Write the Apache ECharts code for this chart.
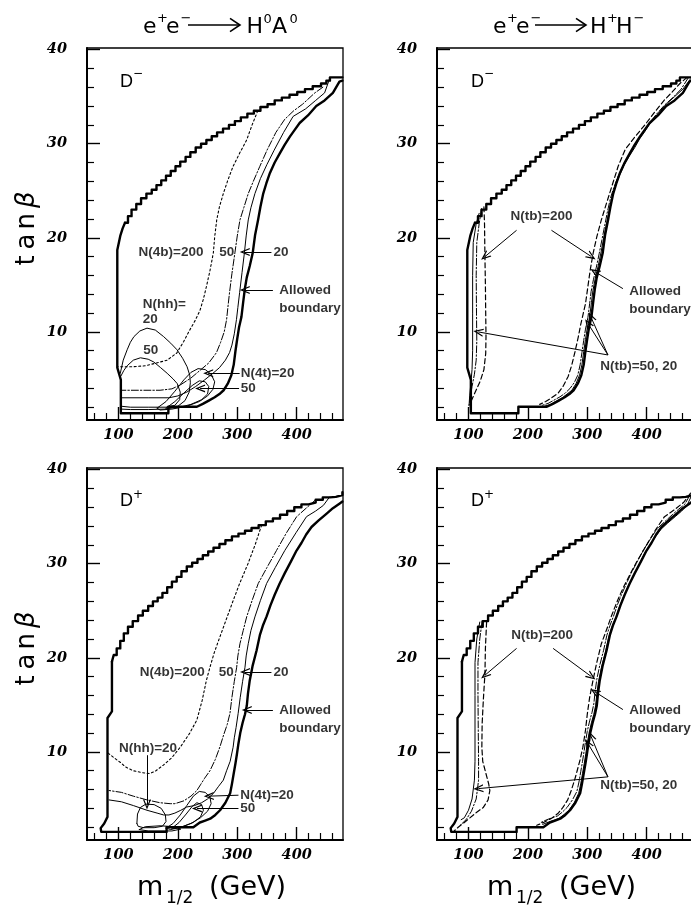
<!DOCTYPE html>
<html><head><meta charset="utf-8">
<script src="https://cdn.jsdelivr.net/npm/echarts@6/dist/echarts.min.js"></script>
<style>html,body{margin:0;padding:0;background:#fff}#c{width:691px;height:914px}</style>
</head><body><div id="c"></div><script>
// ---------- axis ticks ----------
const xMajorTicks = [100, 200, 300, 400];
const xMinorTicks = [60, 80, 120, 140, 160, 180, 220, 240, 260, 280, 320, 340, 360, 380, 420, 440, 460];
const yMajorTicks = [10, 20, 30, 40];
const yMinorTicks = [2, 4, 6, 8, 12, 14, 16, 18, 22, 24, 26, 28, 32, 34, 36, 38];

// ---------- allowed boundary, D- ----------
const bndMinusStairs = [[111,21.6],[116,22.3],[122,23.0],[130,23.6],[138,24.2],[147,24.7],[156,25.1],[164,25.6],[172,26.1],[180,26.6],[188,27.1],[196,27.6],[204,28.1],[213,28.6],[221,29.1],[230,29.6],[239,30.0],[248,30.4],[257,30.8],[266,31.2],[276,31.6],[286,32.0],[296,32.4],[306,32.8],[317,33.2],[328,33.5],[339,33.9],[351,34.2],[363,34.6],[375,34.9],[388,35.2],[401,35.5],[414,35.8],[427,36.1],[441,36.4],[450,36.7],[456,37.05],[477,37.05]];
const bndMinusEdge = [[111,21.6],[107,21.0],[103,20.2],[98,18.7],[98,6.2],[104,4.9],[104,1.35],[184,1.35],[184,2.05],[232,2.05],[242,2.35],[252,2.7],[262,3.05],[270,3.4],[277,3.8],[284,4.5],[290,5.4],[294,6.5],[297,8.0],[300,9.3],[303,10.5],[307,11.6],[310,13.2],[312.6,14.5],[316,15.8],[321,17.0],[326,18.4],[330,20.3],[335,21.9],[339,23.3],[343.7,24.7],[349,25.8],[355,26.9],[363,28.0],[371.8,29.0],[380,29.9],[388.6,30.75],[397,31.5],[405,32.2],[419,33.0],[433,34.0],[447,34.6],[461,35.4],[472,36.6],[477,36.7]];

// ---------- allowed boundary, D+ ----------
const bndPlusStairs = [[89,19.6],[92,20.3],[97,21.0],[103,21.8],[109,22.6],[116,23.3],[124,23.9],[133,24.5],[141,25.0],[150,25.5],[158,26.0],[166,26.4],[174,26.9],[182,27.5],[190,28.1],[198,28.6],[206,29.2],[215,29.7],[224,30.1],[233,30.5],[242,30.9],[251,31.3],[260,31.7],[270,32.1],[280,32.5],[291,32.9],[302,33.2],[313,33.5],[324,33.8],[336,34.1],[348,34.5],[360,34.8],[372,35.2],[384,35.6],[396,36.0],[408,36.3],[420,36.5],[432,36.8],[444,37.05],[456,37.1],[466,37.3],[477,37.6]];
const bndPlusEdge = [[89,19.6],[89,14.3],[81.5,13.6],[81.5,3.1],[76,2.4],[70,1.9],[71,1.5],[181,1.5],[181,2.0],[226,2.0],[237,2.5],[246,2.7],[254.5,2.9],[263,3.3],[271,3.8],[280,4.6],[288,5.6],[291,6.6],[294,7.7],[297,8.8],[299.5,9.8],[302,10.9],[305,12.0],[309,13.1],[313,14.0],[316,14.9],[318,16.2],[321,17.6],[326,19.2],[332.6,20.8],[338,22.4],[343,23.4],[349.4,24.4],[356,25.6],[363,26.7],[371.4,27.9],[380,29.0],[390,30.2],[399.8,31.4],[408,32.2],[416,33.1],[425,33.9],[437,34.6],[450,35.3],[461,35.9],[472.5,36.4],[477,36.6]];

// ---------- e+e- -> H0A0, D- ----------
const n4b200Minus = [[334.5,33.5],[325,32.0],[315.8,30.4],[304,29.0],[293,27.6],[284,26.1],[276.5,24.7],[270,23.3],[265.4,21.9],[262,20.1],[259.7,18.4],[254,16.5],[248,14.8],[243,13.5],[237.3,12.3],[229,11.2],[220,10.2],[210,9.0],[198,7.75],[182,7.0],[164,6.7],[145,6.4],[125,6.3],[99,6.3]];
const n4b50Minus = [[444,36.0],[430.6,35.4],[410,34.2],[395,33.5],[380,32.6],[365,31.2],[350,29.3],[338,27.6],[327,26.0],[318.5,24.7],[311,23.2],[304.5,21.9],[300,20.2],[296,18.4],[291,16.2],[287,14.2],[284,12.5],[282,11.3],[278,10.0],[272,8.9],[265,7.8],[252,6.7],[237,5.9],[222,5.1],[205,4.4],[190,3.95],[170,3.8],[104,3.8]];
const n4b20Minus = [[456,37.0],[447,35.4],[432,34.6],[415,33.7],[394,32.9],[378,31.2],[362,29.3],[350,27.8],[339,26.3],[329.7,24.7],[323,23.2],[318.5,21.9],[315,20.2],[312,18.4],[308,16.3],[304,14.2],[301,12.6],[298.6,11.3],[295,9.8],[291,8.6],[287,7.8],[280,7.0],[270,6.2],[259,5.6],[245,4.9],[230,4.2],[215,3.6],[200,3.2],[185,3.0],[150,3.0],[104,3.0]];
const nhh20Minus = [[103,5.6],[108,7.0],[114.6,8.1],[120,8.9],[126,9.5],[136,10.1],[148,10.4],[162,10.2],[176,9.5],[188,8.8],[198.6,8.1],[208,7.2],[215.5,6.3],[220,5.4],[221,4.6],[219,3.6],[212,2.7],[200,2.1],[180,1.8],[150,1.75],[120,1.75],[104,1.8]];
const nhh50Minus = [[104,5.3],[109,5.9],[114.6,6.4],[125,7.0],[137,7.25],[150,7.1],[159.5,6.8],[171,6.2],[182,5.6],[192,5.0],[199,4.5],[204,3.6],[203,2.8],[195,2.2],[180,2.0],[150,2.0],[120,2.0],[105,2.1]];
const n4t20Minus = [[165,1.9],[180,2.6],[195,3.7],[210,4.9],[222,5.7],[234,6.1],[246,6.0],[256,5.5],[262,4.7],[259,3.9],[250,3.2],[236,2.6],[215,2.1],[190,1.8],[170,1.7],[165,1.9]];
const n4t50Minus = [[180,1.9],[195,2.6],[210,3.5],[224,4.3],[236,4.8],[246,4.7],[252,4.2],[250,3.4],[240,2.8],[222,2.3],[200,1.95],[180,1.9]];

// ---------- e+e- -> H+H-, D- ----------
const ntb200MinusL = [[126,23.3],[127,21.5],[127.7,18.0],[128.5,15.0],[129,12.0],[129.5,9.5],[129,7.7],[126,6.0],[120,4.8],[112,3.7],[105,2.7],[103,2.0]];
const ntb200MinusR = [[468,37.05],[456,36.4],[443,35.5],[430,34.65],[414,33.4],[397,32.0],[380,30.7],[364,29.4],[352,27.6],[342,25.6],[332,23.6],[323.7,21.9],[316,20.1],[310,18.4],[305,16.6],[301,14.8],[297,13.0],[293,11.9],[289,10.8],[285,9.5],[279,7.8],[274,6.5],[268,5.3],[260,4.3],[251,3.5],[240,3.0],[230,2.6],[220,2.3]];
const ntb50MinusL = [[122,23.1],[118,21.5],[114,19.5],[113,16.0],[113.5,12.0],[114,9.0],[113,7.0],[110,5.5],[106,4.2],[103,3.0],[101,2.2]];
const ntb50MinusR = [[470,37.0],[458,35.8],[444,34.9],[430,34.1],[416,33.1],[402,32.0],[394,31.2],[385,30.4],[377,29.5],[368,28.6],[359,27.5],[351,26.4],[344,25.2],[339,24.2],[334,22.8],[330,21.5],[325,19.9],[320,18.3],[315,16.8],[310.5,15.6],[306.5,14.3],[304,13.0],[301,11.5],[297,10.3],[294,9.1],[291,7.8],[288,6.5],[284,5.4],[278,4.6],[271,4.0],[263,3.5],[254,3.1],[244,2.75],[234,2.4],[224,2.2]];
const ntb20MinusL = [[118,22.6],[113,21.5],[108,19.5],[107,16.0],[107,12.0],[107,8.0],[106,6.0],[104,4.5],[102,3.2],[101,2.2]];
const ntb20MinusR = [[474,36.9],[461,35.8],[447,35.0],[433,34.2],[419,33.2],[405,32.1],[397,31.3],[388,30.5],[380,29.6],[371,28.7],[362,27.7],[354,26.6],[347,25.4],[342,24.4],[337,23.0],[333,21.7],[328,20.1],[323,18.4],[318,16.9],[313.5,15.7],[309.5,14.4],[307,13.1],[304,11.6],[300,10.4],[297,9.2],[294,7.9],[291,6.5],[287,5.4],[281,4.5],[274,3.8],[266,3.4],[258,3.0],[248,2.65],[238,2.3],[228,2.1]];

// ---------- e+e- -> H0A0, D+ ----------
const n4b200Plus = [[341,34.1],[330,32.0],[318,30.0],[304,27.9],[292,25.9],[281,24.0],[270.6,22.2],[261,20.5],[254,19.0],[248,17.6],[241,15.5],[232,13.4],[220,12.0],[204,10.5],[190,9.4],[175.6,8.6],[163,8.0],[153,7.7],[140,7.8],[125,8.0],[112,8.4],[102.8,8.9],[92,9.4],[82,9.9]];
const n4b50Plus = [[432,36.8],[416,35.9],[400,35.0],[383,33.3],[366,31.4],[350,29.6],[335.3,27.9],[325,26.1],[315.8,24.35],[310,22.9],[304.5,21.5],[301,20.2],[299,19.0],[295,17.5],[291,15.8],[287.7,14.1],[283,12.9],[277,11.8],[270.6,10.5],[263,9.2],[254,8.0],[245,7.2],[238,6.5],[232,5.9],[222,5.3],[210,4.8],[195,4.5],[187,4.5],[170,4.6],[148,4.9],[125,5.3],[105,5.7],[84,5.9]];
const n4b20Plus = [[455.5,37.1],[445,36.2],[432,35.6],[416.6,35.0],[399,33.3],[380,31.4],[364,29.6],[349.4,27.9],[339,26.1],[329.7,24.35],[323,22.9],[318.5,21.5],[315,20.2],[313,19.0],[309,17.5],[305,15.8],[301.5,14.1],[298,12.6],[295,11.5],[293,10.5],[288,9.0],[282,8.0],[276.5,7.0],[268,6.3],[260,5.6],[250,5.0],[240,4.6],[228,4.3],[215,4.15],[205,3.8],[195,3.5],[185,3.3],[176,3.3],[165,3.5],[148,3.8],[125,4.3],[105,4.7],[84,4.9]];
const nhh20Plus = [[131,2.4],[132,3.4],[137,4.1],[146,4.45],[160,4.4],[172,4.0],[179,3.3],[180,2.6],[174,2.1],[160,1.95],[142,1.95],[133,2.1],[131,2.4]];
const nhh50Plus = [[135,1.75],[145,2.05],[170,2.15],[195,2.05],[205,1.8],[190,1.6],[150,1.6],[135,1.75]];
const n4t20Plus = [[180,1.9],[192,2.4],[204,3.3],[215,4.3],[226,5.3],[236,5.8],[246,5.7],[254,5.2],[256,4.5],[250,3.7],[238,3.0],[222,2.4],[205,2.0],[188,1.75],[180,1.9]];
const n4t50Plus = [[190,1.9],[202,2.5],[214,3.4],[224,4.2],[232,4.6],[240,4.4],[243,3.8],[238,3.1],[226,2.5],[210,2.1],[195,1.85],[190,1.9]];

// ---------- e+e- -> H+H-, D+ ----------
const ntb200PlusL = [[130.5,23.8],[128.5,21.0],[127.7,18.3],[125,15.5],[123,13.0],[122.5,10.5],[124,9.0],[129,7.8],[134,6.6],[136,5.9],[133,4.9],[125,4.1],[111,3.45],[95,2.6],[82.7,2.0],[76,1.6]];
const ntb200PlusR = [[474,37.5],[462,36.5],[446,35.7],[430,35.0],[415,33.6],[400,32.0],[385,30.4],[373,29.0],[361,27.5],[351,26.1],[341,24.5],[332,22.9],[323.7,21.5],[316,19.5],[309.6,17.6],[304,15.8],[300,14.0],[297,12.3],[292.6,10.5],[288,9.2],[283,8.0],[278.6,7.0],[273,5.9],[267,4.9],[259,4.1],[250.4,3.45],[240,2.95],[228,2.55],[215,2.2]];
const ntb50PlusL = [[123,23.9],[119,22.0],[116,19.5],[116,16.0],[116.5,12.0],[117,9.0],[117,7.0],[113,5.0],[105,3.7],[96,2.8],[86,2.2]];
const ntb50PlusR = [[472,37.2],[464,36.3],[454,35.8],[443,35.2],[431,34.5],[419,33.8],[410,33.0],[402,32.2],[394,31.4],[384,30.2],[374,29.0],[366,27.9],[357.5,26.7],[350.5,25.6],[344,24.4],[338,23.4],[333,22.4],[327.5,20.8],[321,19.2],[316,17.7],[313,16.3],[311,15.1],[308,14.2],[304,13.3],[300,12.2],[297,11.1],[294.5,10.0],[292,9.0],[289,7.9],[286,6.8],[282.5,5.8],[275,4.9],[266,4.1],[258,3.6],[250,3.2],[241,3.0],[232,2.8],[222,2.5]];
const ntb20PlusL = [[119,23.8],[114,22.0],[111,19.5],[111,16.0],[111,12.0],[111,9.0],[110,7.0],[106,5.0],[100,3.8],[93,3.0],[87.7,2.8]];
const ntb20PlusR = [[476,37.3],[468,36.2],[459,35.6],[448,35.0],[435,34.3],[423,33.6],[414,32.8],[406,32.0],[397.5,31.2],[388,30.0],[378,28.8],[369.5,27.7],[361,26.5],[354,25.4],[347.5,24.2],[341,23.2],[336,22.2],[330.5,20.6],[324,19.0],[319,17.5],[316,16.1],[314,14.9],[311,14.0],[307,13.1],[303,12.0],[300,10.9],[297.5,9.8],[295,8.8],[292,7.7],[289,6.6],[285.5,5.6],[278,4.6],[269,3.8],[261,3.35],[252.5,2.95],[244,2.75],[235,2.55],[225,2.3]];

// ---------- annotations: [text, x, y, lineHeight] and arrows [[from],[tip]] ----------
const labelsTL = [['N(4b)=200',133,18.5],['50',269,18.5],['20',360,18.5],['Allowed\nboundary',370,13.45,18],['N(hh)=\n20',140,12.15,15],['50',141,8.1],['N(4t)=20',305,5.6],['50',305,4.0]];
const arrowsTL = [[[357.5,18.5],[312.6,18.5]],[[360,14.46],[312.6,14.46]],[[304,5.6],[251,5.6]],[[303,4.0],[237.4,4.0]]];
const labelsTR = [['N(tb)=200',170,22.25],['Allowed\nboundary',370,13.4,18],['N(tb)=50, 20',321,6.3]];
const arrowsTR = [[[181,20.8],[127.7,18.0]],[[239.7,20.8],[307,18.0]],[[360,14.6],[312.5,16.4]],[[334.8,7.55],[116.4,10.0]],[[334.8,7.55],[301,10.9]],[[334.8,7.55],[306,11.6]]];
const labelsBL = [['N(4b)=200',135,18.5],['50',268,18.5],['20',360,18.5],['Allowed\nboundary',370,13.5,18],['N(hh)=20',100,10.36],['N(4t)=20',304,5.4],['50',304,4.0]];
const arrowsBL = [[[357.5,18.5],[313,18.5]],[[360,14.46],[316,14.46]],[[148,9.65],[148,4.4]],[[302,5.4],[252,5.3]],[[302,4.0],[232,4.0]]];
const labelsBR = [['N(tb)=200',171,22.4],['Allowed\nboundary',370,13.5,18],['N(tb)=50, 20',321,6.46]];
const arrowsBR = [[[181,21.0],[127.7,18.15]],[[242.5,21.0],[307,18.0]],[[360,14.5],[312.6,16.4]],[[334.8,7.35],[116.5,6.1]],[[334.8,7.35],[301,10.9]],[[334.8,7.35],[306,11.7]]];

// ---------- layout ----------
const X_MIN = 47, X_MAX = 478, Y_MIN = 0.64, Y_MAX = 40.17;
const gridBoxes = [[87,48],[437,48],[87,468],[437,468]];
const GW = 256, GH = 372;
const BLACK = '#000';
const THICK = 2.4, THIN = 1.0;
const DOT = [2, 2.5], DASHDOT = [7, 2, 1.5, 2], DASH = [5, 3];
const chevron = 'path://M0,10 L5,0 L10,10 L8.4,10 L5,3.2 L1.6,10 Z';

const grids = gridBoxes.map(g => ({left:g[0], top:g[1], width:GW, height:GH, show:true, borderColor:BLACK, borderWidth:1.3, backgroundColor:'transparent', containLabel:false, outerBoundsMode:'none'}));
const tickFont = {fontFamily:'DejaVu Serif', fontWeight:'bold', fontStyle:'italic', fontSize:14.5, color:BLACK};
const xAxes = [], yAxes = [];
gridBoxes.forEach((g, i) => {
  xAxes.push({gridIndex:i, type:'value', position:'bottom', min:X_MIN, max:X_MAX,
    axisLine:{show:true, onZero:false, lineStyle:{color:BLACK, width:2}},
    axisTick:{show:true, inside:true, length:13, customValues:xMajorTicks, lineStyle:{color:BLACK, width:1.4}},
    axisLabel:Object.assign({show:true, customValues:xMajorTicks, margin:8}, tickFont),
    splitLine:{show:false}});
  xAxes.push({gridIndex:i, type:'value', position:'bottom', min:X_MIN, max:X_MAX,
    axisLine:{show:false, onZero:false},
    axisTick:{show:true, inside:true, length:7, customValues:xMinorTicks, lineStyle:{color:BLACK, width:1.2}},
    axisLabel:{show:false}, splitLine:{show:false}});
  yAxes.push({gridIndex:i, type:'value', position:'left', min:Y_MIN, max:Y_MAX,
    axisLine:{show:true, onZero:false, lineStyle:{color:BLACK, width:2}},
    axisTick:{show:true, inside:true, length:13, customValues:yMajorTicks, lineStyle:{color:BLACK, width:1.4}},
    axisLabel:Object.assign({show:true, customValues:yMajorTicks, margin:20}, tickFont),
    splitLine:{show:false}});
  yAxes.push({gridIndex:i, type:'value', position:'left', min:Y_MIN, max:Y_MAX,
    axisLine:{show:false, onZero:false},
    axisTick:{show:true, inside:true, length:7, customValues:yMinorTicks, lineStyle:{color:BLACK, width:1.2}},
    axisLabel:{show:false}, splitLine:{show:false}});
});

const series = [];
function curve(i, data, width, dash, step, z) {
  series.push({type:'line', xAxisIndex:2*i, yAxisIndex:2*i, data:data, symbol:'none', showSymbol:false,
    step: step || false, silent:true, animation:false, z: z || 2,
    lineStyle:{color:BLACK, width:width, type: dash || 'solid', cap:'round', join:'round'}});
}
function labels(i, list) {
  series.push({type:'scatter', xAxisIndex:2*i, yAxisIndex:2*i, symbolSize:1, silent:true, animation:false, z:5,
    itemStyle:{color:'rgba(0,0,0,0)'},
    data:list.map(l => ({value:[l[1], l[2]], name:l[0], label:{lineHeight:l[3] || 16}})),
    label:{show:true, position:'right', distance:0, formatter:'{b}', fontFamily:'Liberation Sans', fontWeight:'bold', fontSize:13.5, color:BLACK}});
}
function arrows(i, list) {
  series.push({type:'line', xAxisIndex:2*i, yAxisIndex:2*i, data:[], animation:false, z:4,
    markLine:{silent:true, animation:false, symbol:['none', chevron], symbolSize:[8,10],
      lineStyle:{color:BLACK, width:1, type:'solid'}, label:{show:false}, emphasis:{disabled:true},
      data:list.map(a => [{coord:a[0]}, {coord:a[1]}])}});
}

// panel 0: H0A0, D-
curve(0, bndMinusStairs, THICK, 'solid', 'end', 3);
curve(0, bndMinusEdge, THICK, 'solid', false, 3);
curve(0, n4b200Minus, 1.1, DOT);
curve(0, n4b50Minus, THIN, DASHDOT);
curve(0, n4b20Minus, THIN);
curve(0, nhh20Minus, THIN);
curve(0, nhh50Minus, THIN);
curve(0, n4t20Minus, THIN);
curve(0, n4t50Minus, THIN);
labels(0, labelsTL); arrows(0, arrowsTL);
// panel 1: H+H-, D-
curve(1, bndMinusStairs, THICK, 'solid', 'end', 3);
curve(1, bndMinusEdge, THICK, 'solid', false, 3);
curve(1, ntb200MinusL, 1.2, DASH);
curve(1, ntb200MinusR, 1.2, DASH);
curve(1, ntb50MinusL, THIN, DASHDOT);
curve(1, ntb50MinusR, THIN, DASHDOT);
curve(1, ntb20MinusL, THIN);
curve(1, ntb20MinusR, THIN);
labels(1, labelsTR); arrows(1, arrowsTR);
// panel 2: H0A0, D+
curve(2, bndPlusStairs, THICK, 'solid', 'end', 3);
curve(2, bndPlusEdge, THICK, 'solid', false, 3);
curve(2, n4b200Plus, 1.1, DOT);
curve(2, n4b50Plus, THIN, DASHDOT);
curve(2, n4b20Plus, THIN);
curve(2, nhh20Plus, THIN);
curve(2, nhh50Plus, THIN);
curve(2, n4t20Plus, THIN);
curve(2, n4t50Plus, THIN);
labels(2, labelsBL); arrows(2, arrowsBL);
// panel 3: H+H-, D+
curve(3, bndPlusStairs, THICK, 'solid', 'end', 3);
curve(3, bndPlusEdge, THICK, 'solid', false, 3);
curve(3, ntb200PlusL, 1.2, DASH);
curve(3, ntb200PlusR, 1.2, DASH);
curve(3, ntb50PlusL, THIN, DASHDOT);
curve(3, ntb50PlusR, THIN, DASHDOT);
curve(3, ntb20PlusL, THIN);
curve(3, ntb20PlusR, THIN);
labels(3, labelsBR); arrows(3, arrowsBR);

// ---------- texts (layout positions in pixels) ----------
const FS = 'DejaVu Sans';
function txt(x, y, text, size, opts) {
  const o = opts || {};
  return {type:'text', x:x, y:y, silent:true, rotation:o.rotation || 0,
    style:{text:text, fill:BLACK, fontFamily:o.family || FS, fontSize:size, fontStyle:o.style || 'normal',
      align:o.align || 'left', verticalAlign:'middle'}};
}
function arrowGfx(x1, x2, y) {
  return [
    {type:'line', silent:true, shape:{x1:x1, y1:y, x2:x2, y2:y}, style:{stroke:BLACK, lineWidth:1.6}},
    {type:'polyline', silent:true, shape:{points:[[x2-10, y-6.7], [x2, y], [x2-10, y+6.7]]}, style:{stroke:BLACK, lineWidth:1.6, fill:null}}
  ];
}
const TB = 27, TS = 18.8; // title big-text centre, superscript centre
const ytRich = {
  t:{fontFamily:FS, fontSize:26, lineHeight:32, padding:[0,6,0,0], fill:BLACK},
  a:{fontFamily:FS, fontSize:26, lineHeight:32, padding:[0,4,0,0], fill:BLACK},
  n:{fontFamily:FS, fontSize:26, lineHeight:32, padding:[0,5,0,0], fill:BLACK},
  g:{fontFamily:FS, fontSize:26, lineHeight:32, fontStyle:'italic', fill:BLACK}
};
const ytText = '{t|t}{a|a}{n|n}{g|β}';
const graphic = [
  // left title  e+e- -> H0A0
  txt(143, TB, 'e', 22), txt(157, TS, '+', 13), txt(166, TB, 'e', 22), txt(180.5, TS, '\u2212', 13),
  ...arrowGfx(188, 240, 25),
  txt(246.5, TB, 'H', 22), txt(263.5, TS + 0.8, '0', 13), txt(272, TB, 'A', 22), txt(289.5, TS + 0.8, '0', 13),
  // right title  e+e- -> H+H-
  txt(493, TB, 'e', 22), txt(507, TS, '+', 13), txt(516, TB, 'e', 22), txt(530.5, TS, '\u2212', 13),
  ...arrowGfx(535, 586, 25),
  txt(590, TB, 'H', 22), txt(607, TS, '+', 13), txt(616, TB, 'H', 22), txt(633.5, TS, '\u2212', 13),
  // panel tags
  txt(120, 82, 'D', 18, {family:'Liberation Sans'}), txt(133, 73.5, '\u2212', 12),
  txt(471, 82, 'D', 18, {family:'Liberation Sans'}), txt(484, 73.5, '\u2212', 12),
  txt(120, 501.2, 'D', 18, {family:'Liberation Sans'}), txt(133, 495, '+', 12),
  txt(471, 501.2, 'D', 18, {family:'Liberation Sans'}), txt(484, 495, '+', 12),
  // x titles
  txt(137, 887.7, 'm', 27), txt(166, 898.5, '1/2', 17), txt(209, 887.7, '(GeV)', 27),
  txt(487, 887.7, 'm', 27), txt(516, 898.5, '1/2', 17), txt(559, 887.7, '(GeV)', 27),
  // y titles
  {type:'text', x:27, y:228.5, rotation:Math.PI/2, silent:true,
    style:{text:ytText, rich:ytRich, align:'center', verticalAlign:'middle', fill:BLACK}},
  {type:'text', x:27, y:648.5, rotation:Math.PI/2, silent:true,
    style:{text:ytText, rich:ytRich, align:'center', verticalAlign:'middle', fill:BLACK}}
];

const chart = echarts.init(document.getElementById('c'), null, {renderer:'canvas'});
chart.setOption({
  animation:false,
  backgroundColor:'#fff',
  grid:grids, xAxis:xAxes, yAxis:yAxes, series:series, graphic:graphic
});
</script></body></html>
